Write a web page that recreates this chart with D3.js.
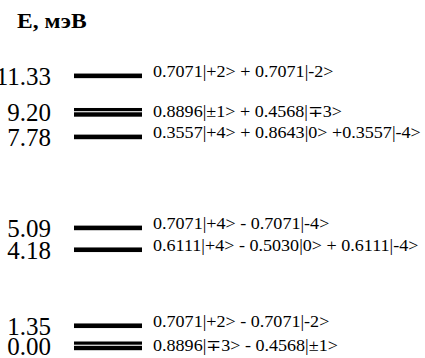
<!DOCTYPE html>
<html>
<head>
<meta charset="utf-8">
<script src="https://cdn.jsdelivr.net/npm/d3@7/dist/d3.min.js"></script>
<style>
  body { margin: 0; background: #fff; }
  svg { display: block; }
  text { font-family: "Liberation Serif", "Times New Roman", serif; fill: #000; }
</style>
</head>
<body>
<svg></svg>
<script>
// DATA
let energies = [11.33, 9.20, 7.78, 5.09, 4.18, 1.35, 0.00];
let energyLabels = ["11.33", "9.20", "7.78", "5.09", "4.18", "1.35", "0.00"];
let degeneracy = [1, 2, 1, 1, 1, 1, 2];
let states = [
  "0.7071|+2> + 0.7071|-2>",
  "0.8896|\u00b11> + 0.4568|\u22133>",
  "0.3557|+4> + 0.8643|0> +0.3557|-4>",
  "0.7071|+4> - 0.7071|-4>",
  "0.6111|+4> - 0.5030|0> + 0.6111|-4>",
  "0.7071|+2> - 0.7071|-2>",
  "0.8896|\u22133> - 0.4568|\u00b11>"
];
let axisTitle = "E, \u043c\u044d\u0412";

// layout
let width = 425, height = 358;
let svg = d3.select("svg").attr("width", width).attr("height", height);

// schematic energy axis: three groups of levels, each drawn with its own
// stretch, and the empty stretches between the groups squeezed
let groups = [
  {from: 0.00, to: 1.35,  pxPerMeV: 15},
  {from: 4.18, to: 5.09,  pxPerMeV: 24},
  {from: 7.78, to: 11.33, pxPerMeV: 17.2}
];
let groupGaps = [76, 91];
let bottomY = 346;

let domain = [], range = [];
let cur = bottomY;
groups.forEach(function(gr, i){
  if (i > 0) cur -= groupGaps[i - 1];
  domain.push(gr.from); range.push(cur);
  cur -= (gr.to - gr.from) * gr.pxPerMeV;
  domain.push(gr.to); range.push(cur);
});

let y = d3.scaleLinear().domain(domain).range(range);
let x = d3.scaleLinear().domain([0, 1]).range([74, 142]);

let levels = energies.map(function(e, i){
  return {e: e, label: energyLabels[i], deg: degeneracy[i], state: states[i]};
});

// title
svg.append("text")
  .attr("transform", "translate(17,28) scale(1.12,1)")
  .attr("font-size", 21)
  .attr("font-weight", "bold")
  .text(axisTitle);

let g = svg.selectAll(".level")
  .data(levels)
  .enter()
  .append("g")
  .attr("class", "level");

// single levels: one thick line
g.filter(d => d.deg == 1)
  .append("rect")
  .attr("x", x(0))
  .attr("width", x(1) - x(0))
  .attr("y", d => y(d.e) - 2.3)
  .attr("height", 4.6)
  .attr("fill", "#000");

// doublets: two lines almost touching
let dbl = g.filter(d => d.deg == 2);
dbl.append("rect")
  .attr("x", x(0))
  .attr("width", x(1) - x(0))
  .attr("y", d => y(d.e) - 4.5)
  .attr("height", 3.2)
  .attr("fill", "#000");
dbl.append("rect")
  .attr("x", x(0))
  .attr("width", x(1) - x(0))
  .attr("y", d => y(d.e) - 0.2)
  .attr("height", 4.4)
  .attr("fill", "#000");

// energy values
g.append("text")
  .attr("x", 51)
  .attr("y", d => y(d.e) + 9)
  .attr("text-anchor", "end")
  .attr("font-size", 25)
  .text(d => d.label);

// wavefunctions
g.append("text")
  .attr("transform", d => `translate(153,${y(d.e) + (d.deg == 2 ? 5 : 1)}) scale(1.13,1)`)
  .attr("font-size", 16)
  .text(d => d.state);
</script>
</body>
</html>
